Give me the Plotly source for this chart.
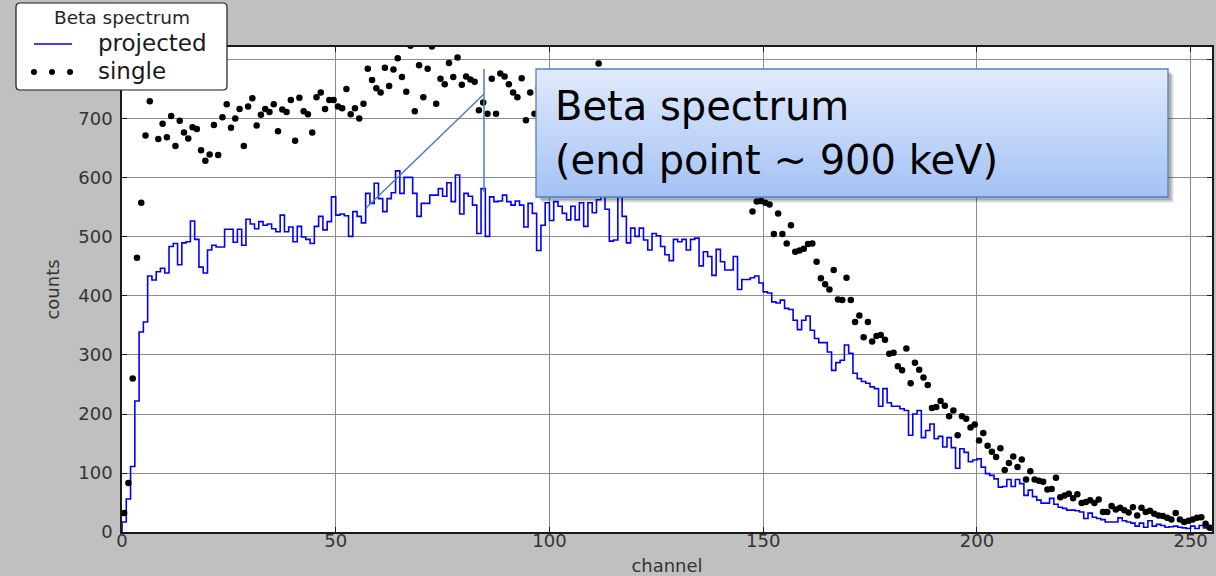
import numpy as np
import plotly.graph_objects as go

# channel contents of the projected spectrum (one value per channel, 0..254)
projected = [
    17, 56, 111, 222, 339, 356, 434, 427, 441, 447,
    439, 484, 489, 453, 490, 492, 527, 496, 449, 439,
    478, 486, 483, 483, 513, 513, 491, 513, 486, 530,
    522, 514, 526, 520, 522, 514, 509, 537, 509, 517,
    492, 518, 500, 496, 489, 518, 535, 512, 526, 568,
    537, 539, 536, 501, 543, 535, 524, 574, 557, 591,
    565, 543, 565, 575, 612, 574, 601, 601, 574, 535,
    557, 557, 571, 571, 582, 569, 592, 560, 605, 539,
    574, 569, 554, 506, 582, 501, 568, 560, 561, 571,
    560, 554, 561, 554, 517, 557, 540, 477, 520, 558,
    528, 560, 552, 540, 529, 552, 529, 558, 518, 558,
    541, 563, 575, 547, 493, 495, 569, 535, 490, 515,
    501, 515, 495, 478, 506, 502, 484, 470, 460, 496,
    492, 496, 478, 496, 498, 451, 475, 467, 435, 479,
    458, 444, 444, 467, 411, 428, 428, 431, 434, 422,
    407, 405, 390, 388, 393, 379, 377, 359, 343, 359,
    366, 342, 328, 321, 321, 305, 274, 287, 291, 317,
    303, 269, 260, 255, 252, 246, 243, 213, 243, 219,
    213, 213, 209, 206, 164, 200, 206, 160, 172, 183,
    158, 162, 144, 160, 143, 108, 141, 135, 119, 122,
    124, 110, 99, 96, 90, 76, 77, 89, 77, 89,
    82, 62, 71, 60, 54, 49, 49, 57, 47, 42,
    40, 37, 37, 36, 34, 23, 32, 25, 23, 21,
    17, 17, 17, 24, 19, 17, 15, 10, 15, 8,
    19, 10, 13, 11, 8, 9, 10, 8, 7, 6,
    10, 6, 11, 7, 11,
]

# single-detector spectrum, same channels
single = [
    32, 83, 260, 465, 558, 672, 730, 760, 666, 692,
    669, 705, 654, 697, 677, 667, 686, 683, 647, 629,
    640, 690, 639, 703, 725, 685, 701, 717, 654, 721,
    735, 689, 707, 717, 712, 725, 679, 716, 712, 732,
    663, 736, 713, 708, 677, 737, 745, 717, 732, 732,
    721, 718, 751, 708, 718, 701, 726, 785, 766, 752,
    745, 787, 756, 784, 803, 771, 746, 824, 713, 791,
    737, 785, 823, 726, 768, 759, 795, 771, 804, 758,
    772, 767, 763, 715, 728, 709, 768, 709, 777, 772,
    759, 745, 737, 769, 698, 745, 709, 752, 731, 765,
    742, 758, 720, 749, 735, 761, 716, 744, 729, 752,
    722, 794, 738, 715, 741, 706, 733, 719, 698, 727,
    711, 690, 718, 701, 684, 707, 679, 695, 672, 688,
    661, 676, 652, 668, 643, 657, 634, 648, 621, 636,
    612, 627, 604, 616, 596, 608, 590, 543, 560, 561,
    558, 555, 505, 540, 505, 489, 520, 475, 477, 480,
    488, 489, 458, 430, 420, 411, 444, 394, 393, 431,
    393, 356, 367, 330, 356, 323, 332, 334, 326, 302,
    304, 281, 274, 311, 252, 287, 275, 262, 249, 210,
    212, 222, 214, 196, 206, 164, 196, 192, 177, 182,
    155, 168, 146, 136, 127, 142, 105, 117, 128, 110,
    123, 89, 103, 89, 87, 85, 72, 73, 92, 59,
    62, 65, 57, 64, 49, 51, 54, 49, 55, 34,
    34, 44, 38, 41, 37, 33, 42, 28, 41, 34,
    36, 31, 28, 27, 24, 21, 32, 21, 17, 19,
    21, 24, 25, 14, 7,
]

x_ticks = [0, 50, 100, 150, 200, 250]
y_ticks = [0, 100, 200, 300, 400, 500, 600, 700, 800]
# the 800 label sits under the legend panel, so it is left blank
y_ticktext = ["0", "100", "200", "300", "400", "500", "600", "700", ""]

legend_title = "Beta spectrum"
legend_labels = ["projected", "single"]
note_lines = ["Beta spectrum", "(end point ~ 900 keV)"]

W, H = 1216, 576
ML, MR, MT, MB = 122, 4, 47, 44
PW, PH = W - ML - MR, H - MT - MB


def px(x):
    """pixel column -> paper x"""
    return (x - ML) / PW


def py(y):
    """pixel row -> paper y"""
    return (H - MB - y) / PH


n = len(projected)
edges = np.arange(n + 1)
centers = np.arange(n) + 0.5

# histogram drawn as a step outline starting from zero at the first edge
step_x = np.concatenate([[edges[0]], edges])
step_y = np.concatenate([[0], projected, [projected[-1]]])

fig = go.Figure()
fig.add_trace(go.Scatter(
    x=step_x, y=step_y, mode="lines", line_shape="hv",
    line=dict(color="#0000ff", width=1.6), name=legend_labels[0],
    showlegend=False,
))
fig.add_trace(go.Scatter(
    x=centers, y=single, mode="markers",
    marker=dict(color="black", size=6.5, line=dict(width=0)),
    name=legend_labels[1], showlegend=False,
))

shapes = []
annotations = []

# ---- callout box with vertical gradient and soft shadow ----
bx0, bx1, by0, by1 = 536, 1168, 69, 197
for off, alpha in [(6, 0.06), (5, 0.08), (4, 0.10), (3, 0.12)]:
    shapes.append(dict(
        type="rect", xref="paper", yref="paper", layer="above",
        x0=px(bx0 + off), x1=px(bx1 + off), y0=py(by0 + off), y1=py(by1 + off),
        fillcolor=f"rgba(0,0,0,{alpha})", line=dict(width=0),
    ))
top_rgb = np.array([224, 234, 252])
bot_rgb = np.array([165, 195, 246])
nb = 64
for i in range(nb):
    t = i / (nb - 1)
    c = (1 - t) * top_rgb + t * bot_rgb
    ya = by0 + (by1 - by0) * i / nb
    yb = by0 + (by1 - by0) * (i + 1) / nb
    shapes.append(dict(
        type="rect", xref="paper", yref="paper", layer="above",
        x0=px(bx0), x1=px(bx1), y0=py(yb + 0.3), y1=py(ya),
        fillcolor="rgb(%d,%d,%d)" % tuple(int(v) for v in c),
        line=dict(width=0),
    ))
shapes.append(dict(
    type="rect", xref="paper", yref="paper", layer="above",
    x0=px(bx0), x1=px(bx1), y0=py(by1), y1=py(by0),
    fillcolor="rgba(0,0,0,0)", line=dict(color="#4f81bd", width=1.3),
))

# callout pointer lines
line_col = "#4a7ebb"
shapes.append(dict(type="line", xref="paper", yref="paper", layer="above",
                   x0=px(484), x1=px(484), y0=py(69), y1=py(192),
                   line=dict(color=line_col, width=1.5)))
shapes.append(dict(type="line", xref="paper", yref="paper", layer="above",
                   x0=px(484), x1=px(366), y0=py(94), y1=py(208),
                   line=dict(color=line_col, width=1.5)))

annotations.append(dict(
    xref="paper", yref="paper", x=px(553), y=py(106), xanchor="left",
    yanchor="middle", showarrow=False, text=note_lines[0],
    font=dict(family="DejaVu Sans", size=40, color="black"),
))
annotations.append(dict(
    xref="paper", yref="paper", x=px(553), y=py(160), xanchor="left",
    yanchor="middle", showarrow=False, text=note_lines[1],
    font=dict(family="DejaVu Sans", size=40, color="black"),
))

# ---- legend panel ----
lx0, lx1, ly0, ly1, r = 16, 227, 3, 90, 4


def rounded_rect_path(x0, x1, y0, y1, rad):
    pts = [
        f"M {px(x0 + rad)},{py(y0)}",
        f"L {px(x1 - rad)},{py(y0)}",
        f"Q {px(x1)},{py(y0)} {px(x1)},{py(y0 + rad)}",
        f"L {px(x1)},{py(y1 - rad)}",
        f"Q {px(x1)},{py(y1)} {px(x1 - rad)},{py(y1)}",
        f"L {px(x0 + rad)},{py(y1)}",
        f"Q {px(x0)},{py(y1)} {px(x0)},{py(y1 - rad)}",
        f"L {px(x0)},{py(y0 + rad)}",
        f"Q {px(x0)},{py(y0)} {px(x0 + rad)},{py(y0)}",
        "Z",
    ]
    return " ".join(pts)


shapes.append(dict(
    type="path", xref="paper", yref="paper", layer="above",
    path=rounded_rect_path(lx0, lx1, ly0, ly1, r),
    fillcolor="white", line=dict(color="#1a1a1a", width=1.2),
))
shapes.append(dict(type="line", xref="paper", yref="paper", layer="above",
                   x0=px(34), x1=px(72), y0=py(44), y1=py(44),
                   line=dict(color="#0000ff", width=1.5)))
for dx in (34, 52, 70):
    shapes.append(dict(type="circle", xref="paper", yref="paper", layer="above",
                       x0=px(dx - 3), x1=px(dx + 3),
                       y0=py(72 + 3), y1=py(72 - 3),
                       fillcolor="black", line=dict(width=0)))

annotations.append(dict(
    xref="paper", yref="paper", x=px(122), y=py(17), xanchor="center",
    yanchor="middle", showarrow=False, text=legend_title,
    font=dict(family="DejaVu Sans", size=18.5, color="#262626"),
))
for label, yc in zip(legend_labels, (43, 71)):
    annotations.append(dict(
        xref="paper", yref="paper", x=px(96), y=py(yc), xanchor="left",
        yanchor="middle", showarrow=False, text=label,
        font=dict(family="DejaVu Sans", size=23, color="#1a1a1a"),
    ))

axis_common = dict(
    showgrid=True, gridcolor="#8c8c8c", gridwidth=1.2,
    showline=True, linecolor="#1a1a1a", linewidth=1.5, mirror="allticks",
    ticks="inside", ticklen=5, tickcolor="#1a1a1a", zeroline=False,
    automargin=False,
    tickfont=dict(family="DejaVu Sans", size=18, color="#333333"),
    title_font=dict(family="DejaVu Sans", size=18, color="#333333"),
)

fig.update_layout(
    width=W, height=H,
    margin=dict(l=ML, r=MR, t=MT, b=MB),
    paper_bgcolor="#c0c0c0", plot_bgcolor="white",
    showlegend=False,
    xaxis=dict(range=[0, 255], tickvals=x_ticks, title=dict(text="channel", standoff=10),
               ticklabelstandoff=-8, **axis_common),
    yaxis=dict(range=[0, 822], tickvals=y_ticks, ticktext=y_ticktext,
               title=dict(text="counts", standoff=14),
               ticklabelstandoff=4, **axis_common),
    shapes=shapes, annotations=annotations,
)

fig.write_html("out.html")
